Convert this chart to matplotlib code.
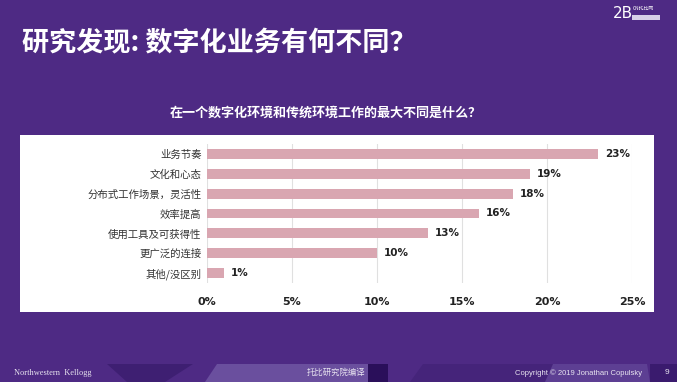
import matplotlib
matplotlib.use("Agg")
import matplotlib.pyplot as plt
from matplotlib.patches import Polygon, Rectangle

plt.rcParams['font.family'] = ['Noto Sans CJK SC', 'DejaVu Sans']

categories = ["业务节奏", "文化和心态", "分布式工作场景，灵活性", "效率提高",
              "使用工具及可获得性", "更广泛的连接", "其他/没区别"]
values = [23, 19, 18, 16, 13, 10, 1]
xticks = [0, 5, 10, 15, 20, 25]
xtick_labels = ["0%", "5%", "10%", "15%", "20%", "25%"]
title = "研究发现: 数字化业务有何不同？"
subtitle = "在一个数字化环境和传统环境工作的最大不同是什么？"

W, H = 677, 382
BG = "#4e2a84"
fig = plt.figure(figsize=(W / 100, H / 100), dpi=100)
fig.patch.set_facecolor(BG)

def fx(x):
    return x / W

def fy(y):
    return 1 - y / H

# white panel
fig.patches.append(Rectangle((fx(20), fy(312)), fx(654) - fx(20), fy(135) - fy(312),
                             transform=fig.transFigure, facecolor="white",
                             edgecolor="none", zorder=-5))

# footer shapes
def poly(pts, color):
    fig.patches.append(Polygon([(fx(x), fy(y)) for x, y in pts], closed=True,
                               transform=fig.transFigure, facecolor=color,
                               edgecolor="none", zorder=-5))

poly([(107, 364), (193, 364), (165, 382), (127, 382)], "#3e1f72")
poly([(217, 364), (368, 364), (368, 382), (205, 382)], "#6a4f9e")
poly([(368, 364), (388, 364), (388, 382), (368, 382)], "#2a0f5a")
poly([(423, 364), (553, 364), (553, 382), (410, 382)], "#45247a")
poly([(553, 364), (647, 364), (650, 382), (545, 382)], "#5d3f93")
poly([(650, 364), (677, 364), (677, 382), (650, 382)], "#3a1b6e")

# axes
ax = fig.add_axes([fx(207), fy(283), fx(632) - fx(207), fy(144) - fy(283)])
ax.set_zorder(2)
ax.set_facecolor("white")
y = list(range(len(categories)))
ax.barh(y, values, height=0.5, color="#d9a6b1", zorder=2)
ax.set_xlim(0, 25)
ax.set_ylim(len(categories) - 0.5, -0.5)
ax.set_yticks(y)
ax.set_yticklabels(categories, fontsize=7.5, color="#333333")
ax.set_xticks(xticks)
ax.set_xticklabels(xtick_labels, fontsize=8, fontweight="bold", color="#222222",
                   family=["DejaVu Sans"])
ax.tick_params(axis="both", length=0, pad=4)
ax.tick_params(axis="x", pad=10)
ax.grid(axis="x", color="#e0e0e0", linewidth=0.8, zorder=0)
ax.set_axisbelow(True)
for s in ax.spines.values():
    s.set_visible(False)
for yi, v in zip(y, values):
    ax.text(v + 0.4, yi, f"{v}%", va="center", ha="left", fontsize=7.5,
            fontweight="bold", color="#222222", family=["DejaVu Sans"])

# titles
fig.text(fx(22), fy(43), title, fontsize=19.5, fontweight="bold", color="white",
         va="center", ha="left")
fig.text(fx(326), fy(113), subtitle, fontsize=9.4, fontweight="bold", color="white",
         va="center", ha="center")

# logo
fig.text(fx(613), fy(13), "2B", fontsize=11, color="white", va="center", ha="left",
         family=["DejaVu Sans"])
fig.text(fx(633), fy(9), "CN托比网", fontsize=3.5, color="white", va="center", ha="left")
fig.patches.append(Rectangle((fx(632), fy(20)), fx(660) - fx(632), fy(15) - fy(20),
                             transform=fig.transFigure, facecolor="#d8d0e8",
                             edgecolor="none"))

# footer text
fig.text(fx(14), fy(373), "Northwestern  Kellogg", fontsize=6, color="#e8e4f0",
         family=["Liberation Serif"], va="center", ha="left")
fig.text(fx(307), fy(372), "托比研究院编译", fontsize=6, color="#e8e4f0",
         va="center", ha="left")
fig.text(fx(515), fy(373), "Copyright © 2019 Jonathan Copulsky", fontsize=5.5,
         color="#e8e4f0", family=["Liberation Sans"], va="center", ha="left")
fig.text(fx(667), fy(373), "9", fontsize=6, color="#e8e4f0",
         family=["Liberation Sans"], va="center", ha="center")

fig.savefig("out.png", dpi=100, facecolor=BG)
